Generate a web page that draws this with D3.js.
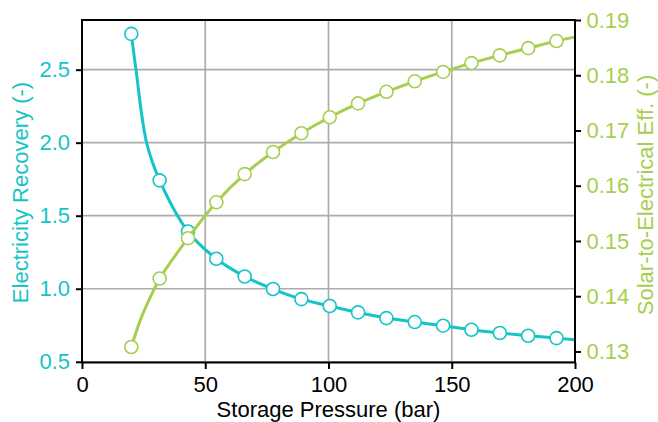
<!DOCTYPE html>
<html>
  <head>
    <meta charset="utf-8" />
    <style>
      body { margin: 0; background: #fff; }
      text { font-family: "Liberation Sans", Arial, sans-serif; }
    </style>
  </head>
  <body>
    <script src="https://d3js.org/d3.v7.min.js"></script>
    <div id="main"></div>
    <script>
      // storage pressure (bar) at each marker
      const pressure = [20, 31.5, 43, 54.5, 66, 77.5, 89, 100.5, 112, 123.5, 135, 146.5, 158, 169.5, 181, 192.5];
      // electricity recovery (-)
      const recovery = [2.745, 1.742, 1.392, 1.205, 1.084, 0.998, 0.929, 0.882, 0.838, 0.799, 0.772, 0.747, 0.719, 0.697, 0.678, 0.662];
      // solar-to-electrical efficiency (-)
      const efficiency = [0.1308, 0.1432, 0.1505, 0.157, 0.1621, 0.1661, 0.1695, 0.1724, 0.1749, 0.177, 0.1789, 0.1806, 0.1822, 0.1836, 0.1849, 0.1862];

      // extra points of the curves between/after the markers
      const recoveryExtraP = [21.9, 26.2, 200];
      const recoveryExtra = [2.5, 2.0, 0.651];
      const efficiencyExtraP = [24.2, 29.3, 200];
      const efficiencyExtra = [0.1363, 0.1413, 0.1869];

      const xTicks = [0, 50, 100, 150, 200];
      const leftTicks = [0.5, 1.0, 1.5, 2.0, 2.5];
      const rightTicks = [0.13, 0.14, 0.15, 0.16, 0.17, 0.18, 0.19];

      const teal = "#15c4c6";
      const green = "#a6cf4f";

      const W = 658, H = 422;
      const m = { left: 82, right: 83, top: 20, bottom: 59.5 };

      const svg = d3.select("#main").append("svg")
        .attr("width", W).attr("height", H);

      const x = d3.scaleLinear().domain([0, 200]).range([m.left, W - m.right]);
      const yL = d3.scaleLinear().domain([0.495, 2.84]).range([H - m.bottom, m.top]);
      const yR = d3.scaleLinear().domain([0.128, 0.19]).range([H - m.bottom, m.top]);

      // grid
      svg.append("g").selectAll("line").data(xTicks).join("line")
        .attr("x1", d => x(d)).attr("x2", d => x(d))
        .attr("y1", m.top).attr("y2", H - m.bottom)
        .attr("stroke", "#acacac").attr("stroke-width", 1.7);
      svg.append("g").selectAll("line").data(leftTicks).join("line")
        .attr("x1", m.left).attr("x2", W - m.right)
        .attr("y1", d => yL(d)).attr("y2", d => yL(d))
        .attr("stroke", "#acacac").attr("stroke-width", 1.7);

      function merge(px, py, ex, ey) {
        const pts = px.map((p, i) => [p, py[i]]).concat(ex.map((p, i) => [p, ey[i]]));
        return pts.sort((a, b) => a[0] - b[0]);
      }

      const recLine = merge(pressure, recovery, recoveryExtraP, recoveryExtra);
      const effLine = merge(pressure, efficiency, efficiencyExtraP, efficiencyExtra);

      const plot = svg.append("g");
      const curve = d3.curveCatmullRom.alpha(0.5);

      plot.append("path")
        .attr("d", d3.line().x(d => x(d[0])).y(d => yL(d[1])).curve(curve)(recLine))
        .attr("fill", "none").attr("stroke", teal).attr("stroke-width", 3);
      plot.selectAll("circle.rec").data(pressure).join("circle")
        .attr("class", "rec")
        .attr("cx", d => x(d)).attr("cy", (d, i) => yL(recovery[i]))
        .attr("r", 6.5).attr("fill", "#fff").attr("stroke", teal).attr("stroke-width", 1.6);

      plot.append("path")
        .attr("d", d3.line().x(d => x(d[0])).y(d => yR(d[1])).curve(curve)(effLine))
        .attr("fill", "none").attr("stroke", green).attr("stroke-width", 3);
      plot.selectAll("circle.eff").data(pressure).join("circle")
        .attr("class", "eff")
        .attr("cx", d => x(d)).attr("cy", (d, i) => yR(efficiency[i]))
        .attr("r", 6.5).attr("fill", "#fff").attr("stroke", green).attr("stroke-width", 1.6);

      // frame
      svg.append("rect")
        .attr("x", m.left).attr("y", m.top)
        .attr("width", W - m.left - m.right).attr("height", H - m.top - m.bottom)
        .attr("fill", "none").attr("stroke", "#000").attr("stroke-width", 2);

      // axes
      const gx = svg.append("g")
        .attr("transform", `translate(0,${H - m.bottom})`)
        .call(d3.axisBottom(x).tickValues(xTicks).tickFormat(d3.format("d")).tickSize(6.5).tickPadding(7.5));
      const gl = svg.append("g")
        .attr("transform", `translate(${m.left},0)`)
        .call(d3.axisLeft(yL).tickValues(leftTicks).tickFormat(d3.format(".1f")).tickSize(6).tickPadding(6));
      const gr = svg.append("g")
        .attr("transform", `translate(${W - m.right},0)`)
        .call(d3.axisRight(yR).tickValues(rightTicks).tickFormat(d3.format(".2f")).tickSize(6).tickPadding(5.5));

      [gx, gl, gr].forEach(g => {
        g.select(".domain").remove();
        g.selectAll("line").attr("stroke", "#000").attr("stroke-width", 2);
        g.selectAll("text").attr("font-size", 22).style("font-family", "'Liberation Sans', Arial, sans-serif");
      });
      gx.selectAll("text").attr("fill", "#000");
      gl.selectAll("text").attr("fill", teal);
      gr.selectAll("text").attr("fill", green);

      // axis titles
      svg.append("text")
        .attr("x", (m.left + W - m.right) / 2).attr("y", 416.5)
        .attr("text-anchor", "middle").attr("font-size", 22).attr("fill", "#000")
        .text("Storage Pressure (bar)");
      svg.append("text")
        .attr("transform", "translate(27.8,192.5) rotate(-90)")
        .attr("text-anchor", "middle").attr("font-size", 22).attr("fill", teal)
        .text("Electricity Recovery (-)");
      svg.append("text")
        .attr("transform", "translate(652.5,195) rotate(-90)")
        .attr("text-anchor", "middle").attr("font-size", 22).attr("fill", green)
        .text("Solar-to-Electrical Eff. (-)");
    </script>
  </body>
</html>
